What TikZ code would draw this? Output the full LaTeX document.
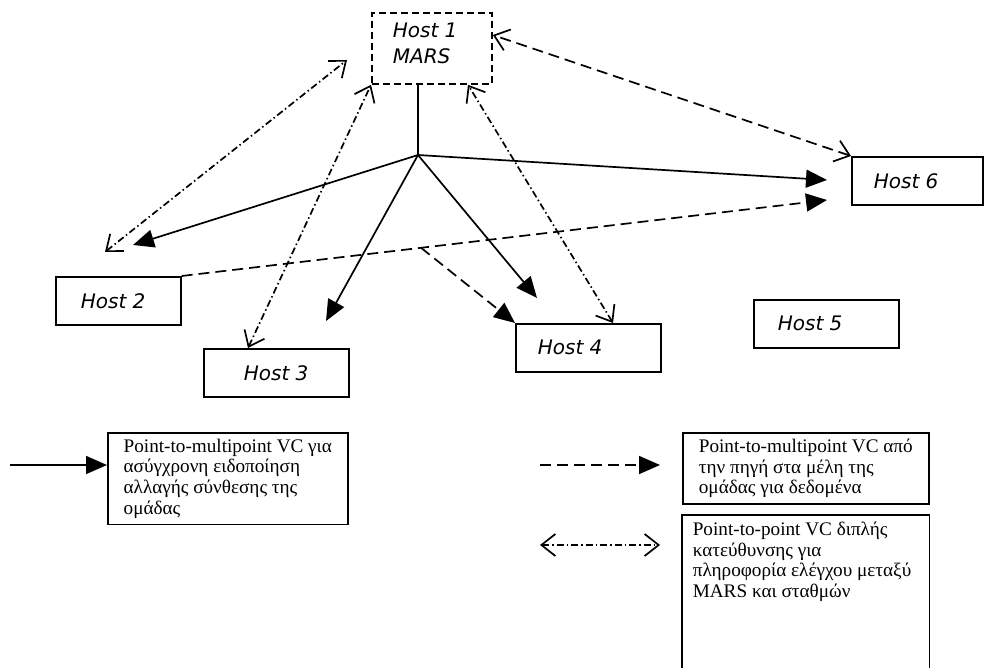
\documentclass[tikz,border=0pt]{standalone}
\usepackage{fontspec}
\setmainfont{Liberation Serif}
\newfontfamily\hostfont{DejaVu Sans}
\usetikzlibrary{arrows.meta,calc}
\begin{document}
\begin{tikzpicture}[x=1pt,y=-1pt,
  line width=1.7pt,
  hostbox/.style={draw, line width=1.6pt, minimum height=48pt, inner sep=0pt, anchor=north west},
  hosttext/.style={font=\hostfont\itshape\fontsize{20}{26}\selectfont, inner sep=0pt, anchor=west},
  legendbox/.style={line width=1.6pt, anchor=north west, align=left, inner xsep=10pt, inner ysep=6pt,
    font=\fontsize{19.2}{20.8}\selectfont},
  solidarrow/.style={-{Triangle[length=21pt,width=18pt]}},
  barbs/.style={{Straight Barb[length=14pt,width=22pt]}-{Straight Barb[length=14pt,width=22pt]}},
  ctrlarrow/.style={barbs, dash pattern=on 7pt off 3pt on 1.5pt off 3pt},
  ctrllong/.style={barbs, dash pattern=on 11pt off 6pt},
  dataline/.style={dash pattern=on 11pt off 6pt, -{Triangle[length=21pt,width=18pt]}}
]
\useasboundingbox (0,0) rectangle (984,668);

% hosts
\node[draw, line width=1.8pt, dash pattern=on 7pt off 4pt, minimum width=120pt, minimum height=71pt,
      inner sep=0pt, anchor=north west] (mars) at (371,12) {};
\node[hosttext, anchor=north west, align=left] (marstext) at (392,22) {Host 1\\MARS};
\node[hostbox, minimum width=125pt] (host2) at (55,276) {};
\node[hosttext] at ([xshift=25pt]host2.west) {Host 2};
\node[hostbox, minimum width=145pt] (host3) at (203,348) {};
\node[hosttext] at ([xshift=40pt]host3.west) {Host 3};
\node[hostbox, minimum width=145pt] (host4) at (515,323) {};
\node[hosttext] at ([xshift=22pt]host4.west) {Host 4};
\node[hostbox, minimum width=145pt] (host5) at (753,299) {};
\node[hosttext] at ([xshift=24pt]host5.west) {Host 5};
\node[hostbox, minimum width=131pt] (host6) at (851,156) {};
\node[hosttext] at ([xshift=22pt]host6.west) {Host 6};

% junction and free arrow ends
\coordinate (stem) at (418,83);
\coordinate (hub) at (418,155);
\coordinate (tip2) at (133,245);
\coordinate (tip3) at (326,321);
\coordinate (tip4) at (537,298);
\coordinate (tip6a) at (827,180);
\coordinate (tip6b) at (827,200);
\coordinate (c2a) at (105,252);
\coordinate (c2b) at (347,60);

% asynchronous notification VC
\draw (stem) -- (hub);
\draw[solidarrow] (hub) -- (tip6a);
\draw[solidarrow] (hub) -- (tip2);
\draw[solidarrow] (hub) -- (tip3);
\draw[solidarrow] (hub) -- (tip4);

% data VC
\draw[dataline] (host2.north east) -- (tip6b);
\coordinate (branch) at ($(host2.north east)!0.371!(tip6b)$);
\draw[dataline] (branch) -- (host4.north west);

% control VCs
\draw[ctrlarrow] (c2a) -- (c2b);
\draw[ctrlarrow] (host3.north west -| 248,0) -- (mars.south west);
\draw[ctrlarrow] (host4.north west -| 613,0) -- (mars.south west -| 468,0);
\draw[ctrllong] (host6.north west) -- (mars.north east |- 0,35);

% legend
\node[legendbox, draw, minimum width=240pt] (leg1) at (107,432)
  {Point-to-multipoint VC για\\ασύγχρονη ειδοποίηση\\αλλαγής σύνθεσης της\\ομάδας};
\node[legendbox, draw, minimum width=246pt] (leg2) at (682,432)
  {Point-to-multipoint VC από\\την πηγή στα μέλη της\\ομάδας για δεδομένα};
\node[legendbox] (leg3) at (682,515)
  {Point-to-point VC διπλής\\κατεύθυνσης για\\πληροφορία ελέγχου μεταξύ\\MARS και σταθμών};
\draw[line width=1.6pt] (leg3.north west |- 0,700) -- (leg3.north west) -- (leg2.east |- leg3.north) -- (leg2.east |- 0,700);

\coordinate (k1) at (10,465);
\coordinate (k2a) at (540,465);
\coordinate (k2b) at (660,465);
\coordinate (k3a) at (540,545);
\coordinate (k3b) at (660,545);
\draw[solidarrow] (k1) -- (k1 -| leg1.west);
\draw[dataline] (k2a) -- (k2b);
\draw[ctrlarrow] (k3a) -- (k3b);
\end{tikzpicture}
\end{document}
